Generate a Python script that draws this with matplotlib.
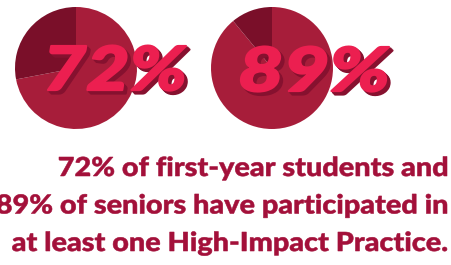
import matplotlib
matplotlib.use("Agg")
import matplotlib.pyplot as plt
from matplotlib.textpath import TextPath
from matplotlib.font_manager import FontProperties, findfont
from matplotlib.patches import PathPatch
from matplotlib.transforms import Affine2D

# data
percents = [72, 89]
caption_lines = [
    "72% of first-year students and",
    "89% of seniors have participated in",
    "at least one High-Impact Practice.",
]

light = "#A71D3A"
dark = "#7A0F29"
pink = "#EC1F50"
shadow = "#86112F"
text_red = "#A3103A"

W, H = 451, 265


def pick(family, weight, style="normal"):
    fp = FontProperties(family=family, weight=weight, style=style)
    try:
        findfont(fp, fallback_to_default=False)
        return fp
    except Exception:
        return FontProperties(family="DejaVu Sans", weight="bold",
                              style="oblique" if style != "normal" else "normal")


big_font = pick("Lato", "black", "italic")
cap_font = pick("Lato", "black")


def path_for(s, prop, left, right, baseline, cap_px, anchor_right=False, sx=None):
    tp = TextPath((0, 0), s, size=1, prop=prop)
    capH = TextPath((0, 0), "H", size=1, prop=prop).get_extents().y1
    ext = tp.get_extents()
    sy = cap_px / capH
    if sx is None:
        sx = (right - left) / (ext.x1 - ext.x0)
    if anchor_right:
        tr = Affine2D().translate(-ext.x1, 0).scale(sx, sy).translate(right, H - baseline)
    else:
        tr = Affine2D().translate(-ext.x0, 0).scale(sx, sy).translate(left, H - baseline)
    return tr.transform_path(tp), sx


fig = plt.figure(figsize=(W / 100, H / 100), dpi=100)
ax = fig.add_axes([0, 0, 1, 1])

centers = [(76, H - 68), (272, H - 68)]
num_boxes = [(48, 186, 90), (241, 389, 91)]
for (cx, cy), p, (l, r, b) in zip(centers, percents, num_boxes):
    ax.pie([p, 100 - p], colors=[light, dark], startangle=90, counterclock=False,
           center=(cx, cy), radius=61, wedgeprops=dict(linewidth=0), frame=True)
    path, _ = path_for(f"{p}%", big_font, l, r, b, 44)
    for k in (3.5, 2.5, 1.5):
        sp = Affine2D().translate(k, -k).transform_path(path)
        ax.add_patch(PathPatch(sp, facecolor=shadow, edgecolor=shadow, linewidth=1.6,
                               joinstyle="round"))
    ax.add_patch(PathPatch(path, facecolor=pink, edgecolor=pink, linewidth=1.6,
                           joinstyle="round"))

# caption, right aligned
_, sx = path_for(caption_lines[0], cap_font, 59, 447, 176, 19)
for line, base in zip(caption_lines, [176, 213.5, 251]):
    path, _ = path_for(line, cap_font, 0, 447, base, 19, anchor_right=True, sx=sx)
    ax.add_patch(PathPatch(path, facecolor=text_red, edgecolor=text_red, linewidth=0.4))

ax.set_xlim(0, W)
ax.set_ylim(0, H)
ax.set_aspect("equal")
ax.axis("off")

fig.savefig("out.png", dpi=100)
